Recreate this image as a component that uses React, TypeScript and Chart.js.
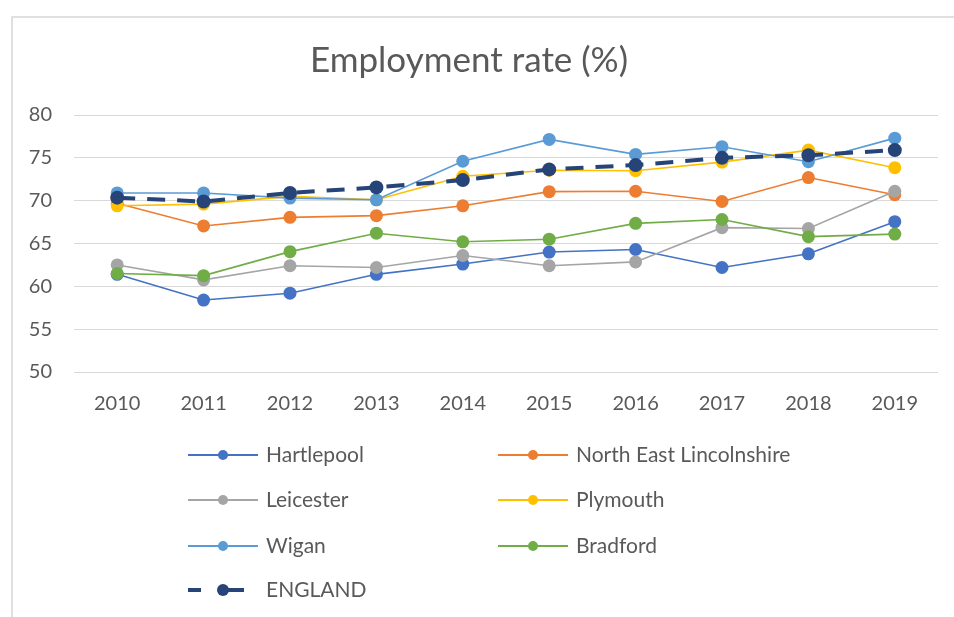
import React, { useEffect, useRef } from "react";
import { Chart, registerables } from "chart.js";

Chart.register(...registerables);

const years = ["2010", "2011", "2012", "2013", "2014", "2015", "2016", "2017", "2018", "2019"];

const hartlepool = [61.4, 58.4, 59.2, 61.4, 62.6, 64.0, 64.3, 62.2, 63.8, 67.55];
const northEastLincolnshire = [69.7, 67.05, 68.05, 68.25, 69.4, 71.05, 71.1, 69.9, 72.7, 70.7];
const leicester = [62.5, 60.75, 62.4, 62.2, 63.6, 62.4, 62.85, 66.85, 66.75, 71.1];
const plymouth = [69.4, 69.6, 70.5, 70.1, 72.85, 73.55, 73.5, 74.5, 75.9, 73.85];
const wigan = [70.9, 70.9, 70.3, 70.1, 74.6, 77.15, 75.4, 76.3, 74.55, 77.3];
const bradford = [61.5, 61.25, 64.05, 66.2, 65.2, 65.5, 67.35, 67.8, 65.8, 66.1];
const england = [70.35, 69.9, 70.9, 71.55, 72.4, 73.65, 74.15, 75.0, 75.3, 75.9];

const seriesNames = ["Hartlepool", "North East Lincolnshire", "Leicester", "Plymouth", "Wigan", "Bradford", "ENGLAND"];
const seriesData = [hartlepool, northEastLincolnshire, leicester, plymouth, wigan, bradford, england];
const seriesColors = ["#4472C4", "#ED7D31", "#A5A5A5", "#FFC000", "#5B9BD5", "#70AD47", "#264478"];

const FONT = "Lato, 'Open Sans', sans-serif";
const TEXT = "#595959";

const legendPlugin = {
  id: "gridLegend",
  afterDraw(chart: any) {
    const ctx = chart.ctx;
    const bottom = chart.chartArea.bottom;
    const cols = [188, 498];
    const rowOffsets = [83, 128, 174, 218];
    ctx.save();
    chart.data.datasets.forEach((ds: any, i: number) => {
      const col = i === 6 ? 0 : i % 2;
      const row = i === 6 ? 3 : Math.floor(i / 2);
      const x0 = cols[col];
      const y = bottom + rowOffsets[row];
      const isEng = i === 6;
      ctx.strokeStyle = ds.borderColor;
      ctx.lineWidth = isEng ? 4 : 2;
      ctx.lineCap = "butt";
      if (isEng) {
        ctx.beginPath();
        ctx.moveTo(x0, y);
        ctx.lineTo(x0 + 13, y);
        ctx.moveTo(x0 + 40, y);
        ctx.lineTo(x0 + 56, y);
        ctx.stroke();
      } else {
        ctx.beginPath();
        ctx.moveTo(x0, y);
        ctx.lineTo(x0 + 70, y);
        ctx.stroke();
      }
      ctx.fillStyle = ds.borderColor;
      ctx.beginPath();
      ctx.arc(x0 + 35, y, isEng ? 6 : 5, 0, Math.PI * 2);
      ctx.fill();
      ctx.fillStyle = TEXT;
      ctx.font = `21px ${FONT}`;
      ctx.textAlign = "left";
      ctx.textBaseline = "middle";
      ctx.fillText(ds.label, x0 + 78, y);
    });
    ctx.restore();
  },
};

export default function App() {
  const ref = useRef<HTMLCanvasElement>(null);

  useEffect(() => {
    if (!ref.current) return;
    const orders = [7, 6, 5, 4, 3, 2, 1];
    const chart = new Chart(ref.current, {
      type: "line",
      data: {
        labels: years,
        datasets: seriesNames.map((name, i) => ({
          label: name,
          data: seriesData[i],
          borderColor: seriesColors[i],
          backgroundColor: seriesColors[i],
          pointBackgroundColor: seriesColors[i],
          pointBorderColor: seriesColors[i],
          borderWidth: i === 6 ? 4 : 1.6,
          borderDash: i === 6 ? [18, 12] : [],
          pointRadius: i === 6 ? 7 : 6.5,
          pointBorderWidth: 0,
          tension: 0,
          order: orders[i],
          fill: false,
        })),
      },
      options: {
        responsive: false,
        animation: false,
        devicePixelRatio: 1,
        layout: { padding: { left: 0, right: 16, top: 0, bottom: 195 } },
        plugins: {
          legend: { display: false },
          tooltip: { enabled: false },
          title: {
            display: true,
            text: "Employment rate (%)",
            color: TEXT,
            font: { family: FONT, size: 35, weight: "normal" },
            padding: { top: 40, bottom: 33 },
          },
        },
        scales: {
          x: {
            offset: true,
            grid: { display: false, drawTicks: false },
            border: { display: false },
            ticks: {
              color: TEXT,
              font: { family: FONT, size: 20 },
              padding: 20,
              maxRotation: 0,
            },
            afterFit: (s: any) => {
              s.height = 50;
            },
          },
          y: {
            min: 50,
            max: 80,
            grid: { color: "#d9d9d9", lineWidth: 1, drawTicks: false },
            border: { display: false },
            ticks: {
              stepSize: 5,
              color: TEXT,
              font: { family: FONT, size: 20 },
              padding: 22,
            },
            afterFit: (s: any) => {
              s.width = 74;
            },
          },
        },
      },
      plugins: [legendPlugin],
    });
    return () => chart.destroy();
  }, []);

  return (
    <div style={{ position: "absolute", left: 0, top: 0, width: 954, height: 617, overflow: "hidden", background: "#fff" }}>
      <div
        style={{
          position: "absolute",
          left: 11,
          top: 16,
          width: 1000,
          height: 700,
          border: "2px solid #e0e0e0",
          boxSizing: "border-box",
        }}
      />
      <canvas ref={ref} width={954} height={617} style={{ position: "absolute", left: 0, top: 0, display: "block" }} />
    </div>
  );
}
